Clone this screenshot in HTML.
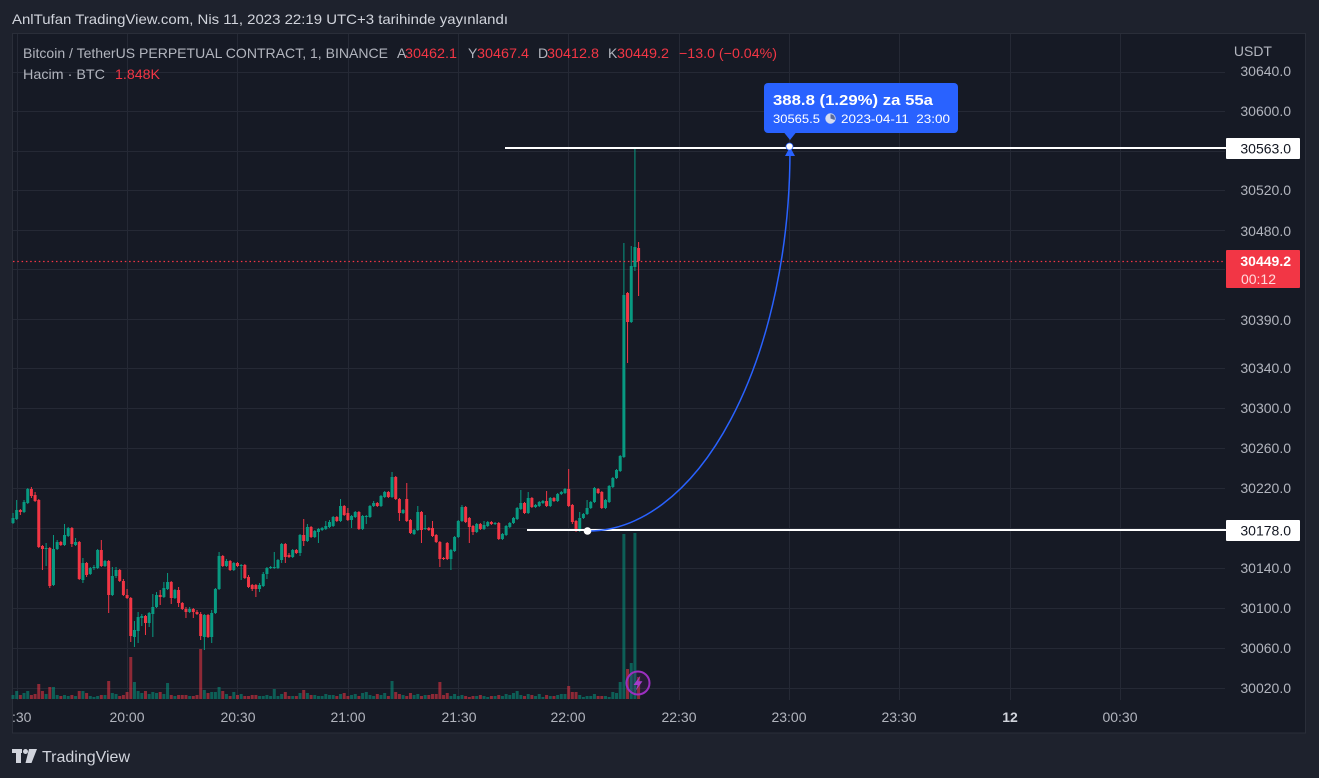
<!DOCTYPE html>
<html><head><meta charset="utf-8">
<style>
html,body{margin:0;padding:0;background:#1e222d;overflow:hidden;}
svg{display:block;font-family:"Liberation Sans",Arial,sans-serif;}
</style></head><body>
<svg id="s" width="1319" height="778" viewBox="0 0 1319 778" xmlns="http://www.w3.org/2000/svg">
<rect width="1319" height="778" fill="#1e222d"/>
<text x="12" y="24" font-size="14" fill="#d1d4dc" textLength="496" lengthAdjust="spacingAndGlyphs">AnlTufan TradingView.com, Nis 11, 2023 22:19 UTC+3 tarihinde yayınlandı</text>
<rect x="12.5" y="33.5" width="1293" height="699.5" fill="#161a25" stroke="#2a2e39"/>
<g stroke="#252935" stroke-width="1">
<line x1="13" y1="72.5" x2="1225" y2="72.5"/>
<line x1="13" y1="111.5" x2="1225" y2="111.5"/>
<line x1="13" y1="151.5" x2="1225" y2="151.5"/>
<line x1="13" y1="190.5" x2="1225" y2="190.5"/>
<line x1="13" y1="230.5" x2="1225" y2="230.5"/>
<line x1="13" y1="269.5" x2="1225" y2="269.5"/>
<line x1="13" y1="319.5" x2="1225" y2="319.5"/>
<line x1="13" y1="368.5" x2="1225" y2="368.5"/>
<line x1="13" y1="408.5" x2="1225" y2="408.5"/>
<line x1="13" y1="448.5" x2="1225" y2="448.5"/>
<line x1="13" y1="488.5" x2="1225" y2="488.5"/>
<line x1="13" y1="528.5" x2="1225" y2="528.5"/>
<line x1="13" y1="568.5" x2="1225" y2="568.5"/>
<line x1="13" y1="608.5" x2="1225" y2="608.5"/>
<line x1="13" y1="648.5" x2="1225" y2="648.5"/>
<line x1="13" y1="688.5" x2="1225" y2="688.5"/>
<line x1="17.5" y1="34" x2="17.5" y2="700"/>
<line x1="127.5" y1="34" x2="127.5" y2="700"/>
<line x1="237.5" y1="34" x2="237.5" y2="700"/>
<line x1="348.5" y1="34" x2="348.5" y2="700"/>
<line x1="458.5" y1="34" x2="458.5" y2="700"/>
<line x1="568.5" y1="34" x2="568.5" y2="700"/>
<line x1="679.5" y1="34" x2="679.5" y2="700"/>
<line x1="789.5" y1="34" x2="789.5" y2="700"/>
<line x1="899.5" y1="34" x2="899.5" y2="700"/>
<line x1="1010.5" y1="34" x2="1010.5" y2="700"/>
<line x1="1120.5" y1="34" x2="1120.5" y2="700"/>
</g>
<g id="vol"></g>
<g id="cdl"></g>
<line x1="13" y1="261.5" x2="1225" y2="261.5" stroke="#f23645" stroke-width="1.2" stroke-dasharray="1.5 2.8"/>
<line x1="505" y1="148" x2="1226" y2="148" stroke="#ffffff" stroke-width="2"/>
<line x1="527" y1="530" x2="1226" y2="530" stroke="#ffffff" stroke-width="2"/>
<path d="M 588 531 A 202 381 0 0 0 790 150" fill="none" stroke="#2962ff" stroke-width="1.5"/>
<circle cx="587.5" cy="531" r="3.8" fill="#ffffff"/>
<polygon points="790,147 785,156 795,156" fill="#2962ff"/>
<circle cx="789.5" cy="146.5" r="3.5" fill="#ffffff" stroke="#2962ff" stroke-width="0.8"/>
<!-- tooltip -->
<rect x="764" y="83" width="194" height="50" rx="4" fill="#2962ff"/>
<polygon points="784,132.5 796,132.5 790,140" fill="#2962ff"/>
<text x="773" y="105" font-size="15" font-weight="bold" fill="#ffffff" textLength="160" lengthAdjust="spacingAndGlyphs">388.8 (1.29%) za 55a</text>
<text x="773" y="123" font-size="12" fill="#ffffff" textLength="47" lengthAdjust="spacingAndGlyphs">30565.5</text>
<circle cx="830.5" cy="118.5" r="5.2" fill="#d6dcf0"/>
<path d="M830.5 118.5 L830.5 114.2 A4.3 4.3 0 0 1 834.6 120 Z" fill="#5a6a9a"/>
<text x="841" y="123" font-size="12" fill="#ffffff" xml:space="preserve" textLength="109" lengthAdjust="spacingAndGlyphs">2023-04-11  23:00</text>
<!-- lightning -->
<circle cx="638" cy="683" r="11.5" fill="rgba(156,39,176,0.12)" stroke="#9c2fc0" stroke-width="2"/>
<path d="M640.5 675.5 L633.5 685 L637.8 685 L635.5 691 L642.5 681.2 L638.3 681.2 Z" fill="#a63ccc"/>
<!-- price axis -->
<g font-size="14" fill="#b2b5be" text-anchor="end">
<text x="1272" y="56">USDT</text>
<text x="1291" y="76">30640.0</text>
<text x="1291" y="116">30600.0</text>
<text x="1291" y="195">30520.0</text>
<text x="1291" y="236">30480.0</text>
<text x="1291" y="325">30390.0</text>
<text x="1291" y="373">30340.0</text>
<text x="1291" y="413">30300.0</text>
<text x="1291" y="453">30260.0</text>
<text x="1291" y="493">30220.0</text>
<text x="1291" y="573">30140.0</text>
<text x="1291" y="613">30100.0</text>
<text x="1291" y="653">30060.0</text>
<text x="1291" y="693">30020.0</text>
</g>
<rect x="1226" y="138" width="74" height="21" rx="1" fill="#ffffff"/>
<text x="1291" y="153.5" font-size="14" fill="#131722" text-anchor="end">30563.0</text>
<rect x="1226" y="520" width="74" height="21" rx="1" fill="#ffffff"/>
<text x="1291" y="535.5" font-size="14" fill="#131722" text-anchor="end">30178.0</text>
<rect x="1226" y="250" width="74" height="38" rx="1" fill="#f23645"/>
<text x="1291" y="266" font-size="14" font-weight="bold" fill="#ffffff" text-anchor="end">30449.2</text>
<text x="1276" y="284" font-size="14" fill="#ffd9dc" text-anchor="end">00:12</text>
<!-- time axis -->
<g font-size="14" fill="#b2b5be" text-anchor="middle">
<text x="12" y="722" text-anchor="start">:30</text>
<text x="127" y="722">20:00</text>
<text x="238" y="722">20:30</text>
<text x="348" y="722">21:00</text>
<text x="459" y="722">21:30</text>
<text x="568" y="722">22:00</text>
<text x="679" y="722">22:30</text>
<text x="789" y="722">23:00</text>
<text x="899" y="722">23:30</text>
<text x="1010" y="722" font-weight="bold" fill="#d1d4dc">12</text>
<text x="1120" y="722">00:30</text>
</g>
<!-- legend -->
<g font-size="14">
<text x="23" y="58" fill="#b2b5be" textLength="365" lengthAdjust="spacingAndGlyphs">Bitcoin / TetherUS PERPETUAL CONTRACT, 1, BINANCE</text>
<text x="397" y="58" fill="#b2b5be">A</text>
<text x="405" y="58" fill="#f23645" textLength="52" lengthAdjust="spacingAndGlyphs">30462.1</text>
<text x="468" y="58" fill="#b2b5be">Y</text>
<text x="477" y="58" fill="#f23645" textLength="52" lengthAdjust="spacingAndGlyphs">30467.4</text>
<text x="538" y="58" fill="#b2b5be">D</text>
<text x="547" y="58" fill="#f23645" textLength="52" lengthAdjust="spacingAndGlyphs">30412.8</text>
<text x="608" y="58" fill="#b2b5be">K</text>
<text x="617" y="58" fill="#f23645" textLength="52" lengthAdjust="spacingAndGlyphs">30449.2</text>
<text x="679" y="58" fill="#f23645" textLength="98" lengthAdjust="spacingAndGlyphs">−13.0 (−0.04%)</text>
<text x="23" y="79" fill="#b2b5be" textLength="82" lengthAdjust="spacingAndGlyphs">Hacim · BTC</text>
<text x="115" y="79" fill="#f23645" textLength="45" lengthAdjust="spacingAndGlyphs">1.848K</text>
</g>
<!-- TV logo -->
<g fill="#d1d4dc">
<rect x="12" y="749" width="10" height="4"/>
<rect x="16" y="749" width="5" height="14"/>
<circle cx="25.5" cy="751.5" r="2.5"/>
<polygon points="29,749 37,749 31.5,763 25.5,763"/>
<text x="42" y="762" font-size="16" textLength="88" lengthAdjust="spacingAndGlyphs">TradingView</text>
</g>
</svg>
<script>
var D=[[523,518,513,524],[519,510,500,520],[510,512,509,515],[512,502,500,513],[503,489,488,504],[489,496,487,498],[495,501,492,502],[500,547,499,548],[546,549,545,570],[549,548,543,566],
[548,586,547,588],[585,549,535,586],[549,542,540,550],[542,545,541,546],[545,535,524,546],[536,528,527,537],[528,544,527,547],[545,542,538,546],[542,579,541,580],[580,563,558,583],
[563,575,562,577],[574,568,567,575],[568,567,565,570],[568,550,549,569],[550,566,540,567],[566,561,560,567],[561,595,560,613],[595,576,567,596],[576,570,567,578],[570,581,569,582],
[581,595,579,596],[595,598,589,599],[598,636,597,642],[637,630,621,647],[631,617,612,643],[618,616,614,626],[616,623,615,635],[623,613,612,627],[614,607,594,637],[607,595,592,608],
[595,597,590,605],[597,588,582,598],[589,582,573,590],[582,598,581,604],[598,590,589,599],[590,603,587,607],[603,609,602,610],[609,612,607,618],[612,609,607,613],[609,612,608,618],
[612,614,610,615],[614,636,612,640],[637,615,614,650],[615,637,614,638],[637,613,610,643],[613,589,588,614],[589,556,552,590],[556,566,555,567],[566,561,559,567],[561,570,560,571],
[570,563,562,571],[563,566,562,567],[566,565,564,580],[565,578,564,579],[577,587,575,588],[585,589,584,591],[585,589,584,597],[589,585,583,592],[586,574,572,587],[574,568,567,579],
[568,567,566,569],[568,567,552,569],[568,560,559,569],[560,544,543,563],[544,557,543,563],[555,557,553,558],[557,550,549,558],[550,553,549,554],[553,535,534,556],[535,541,519,546],
[541,527,524,542],[527,537,526,538],[537,531,530,538],[532,529,528,543],[530,528,527,531],[529,526,521,530],[527,522,520,528],[526,517,516,527],[517,521,516,522],[521,506,499,522],
[506,515,505,516],[513,520,508,521],[520,516,515,528],[517,512,511,518],[512,529,511,530],[529,516,515,530],[517,516,515,524],[517,506,505,518],[506,503,501,507],[503,506,502,507],
[506,496,495,507],[497,492,491,498],[492,497,491,498],[497,477,472,498],[477,499,476,500],[499,513,498,521],[513,510,509,514],[499,521,483,522],[520,533,519,534],[534,530,529,535],
[530,512,506,531],[512,530,511,543],[529,528,515,530],[528,530,527,531],[528,536,521,537],[535,542,534,543],[542,559,541,567],[558,559,557,560],[543,559,542,560],[559,550,549,570],
[551,537,536,552],[537,521,520,538],[521,507,505,522],[507,522,506,523],[518,527,517,543],[526,532,525,535],[532,524,523,533],[524,529,523,530],[529,525,521,530],[526,522,521,527],
[522,524,521,525],[524,523,522,525],[523,539,522,540],[539,534,533,540],[535,526,525,536],[527,523,522,528],[523,518,517,524],[519,508,507,520],[509,503,490,510],[503,513,502,514],
[513,498,492,514],[498,507,497,508],[507,505,504,508],[506,502,501,507],[503,501,500,504],[501,506,491,507],[506,498,497,507],[498,501,497,502],[501,494,493,502],[494,492,491,495],
[493,489,488,494],[489,506,469,507],[505,522,504,524],[521,531,520,532],[531,518,512,532],[518,514,513,519],[514,508,500,515],[508,502,501,509],[502,488,487,503],[489,493,488,494],
[492,508,491,509],[508,500,499,509],[502,486,485,503],[487,478,477,488],[478,470,469,479],[471,456,455,472],[457,295,243,458],[293,322,292,363],[322,266,246,323],[267,247,147,271],
[248,261,242,296]];
var V=[4,8,4,6,8,4,5,15,8,5, 12,12,4,3,4,3,4,3,8,8, 6,3,2,3,4,4,18,6,5,3, 4,7,42,17,8,6,8,5,7,6, 7,5,16,4,3,4,4,4,3,3, 4,50,9,6,7,7,12,8,5,3, 7,4,5,3,3,4,4,3,3,4, 3,10,3,5,7,3,3,3,6,9, 6,4,4,3,3,5,4,
4,3,5,6,3,4,5,3,6,7, 4,3,5,4,6,3,18,7,5,4, 3,6,4,5,3,4,4,5,5,17, 4,6,3,5,3,4,3,2,3,3, 4,3,2,3,3,4,3,5,4,6, 8,4,3,5,4,3,5,
2,4,3,3,4,5,5,13,7,7,4,2,3,3,5,3,3,3,2,7,6,17,165,30,36,166,22];
var NS="http://www.w3.org/2000/svg";
var vg=document.getElementById("vol"), cg=document.getElementById("cdl");
function r(g,x,y,w,h,f){var e=document.createElementNS(NS,"rect");e.setAttribute("x",x.toFixed(2));e.setAttribute("y",y.toFixed(2));e.setAttribute("width",w);e.setAttribute("height",h.toFixed(2));e.setAttribute("fill",f);g.appendChild(e);}
for(var i=0;i<D.length;i++){
  var d=D[i],o=d[0],c=d[1],h=d[2],l=d[3],x=13+i*3.68,u=c<=o;
  var v=V[i]||3;
  r(vg,x-1.5,699-v,3,v,u?"rgba(8,153,129,0.55)":"rgba(242,54,69,0.55)");
  var col=u?"#089981":"#f23645";
  var hi=Math.min(h,o,c),lo=Math.max(l,o,c);
  r(cg,x-0.5,hi,1,lo-hi,col);
  var t=Math.min(o,c),bh=Math.max(1,Math.abs(o-c));
  r(cg,x-1.5,t,3,bh,col);
}
</script>
</body></html>
